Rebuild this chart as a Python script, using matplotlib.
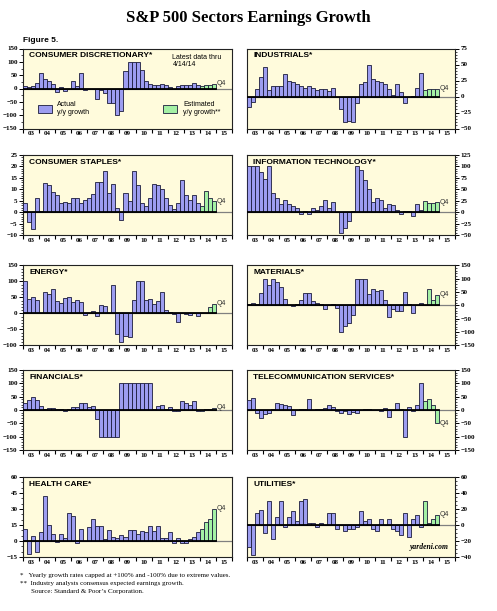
#!/usr/bin/env python3
"""
S&P 500 sectors earnings growth: ten small bar panels, quarterly y/y growth
2003-2014 (2014 = analysts' estimates, drawn green).

Output: out.png (~497x611 px)
"""

import matplotlib
matplotlib.use("Agg")
import matplotlib.pyplot as plt
from matplotlib.patches import Rectangle
from matplotlib.ticker import MultipleLocator

# DATA  (quarterly y/y growth, %, Q1 2003 .. Q4 2014; last 4 are estimates)

START_YEAR = 2003
N_EST      = 4
YEAR_LABELS = ["03", "04", "05", "06", "07", "08", "09", "10", "11", "12", "13", "14", "15"]

cons_disc = [10, 5, 10, 20, 57, 35, 28, 18, -12, 5, -10, 0, 28, 8, 57, -5,
             -3, -3, -40, -5, -18, -55, -55, -100, -85, 65, 100, 100, 100, 68, 28, 18,
             15, 15, 18, 15, 5, -3, 10, 12, 15, 15, 20, 15, 10, 12, 15, 18]
industrials = [-17, -8, 12, 31, 46, 10, 17, 16, 16, 35, 25, 23, 20, 16, 14, 16,
               14, 10, 12, 12, 8, 13, 0, -20, -40, -38, -40, -10, 20, 22, 50, 27,
               24, 22, 20, 12, 3, 20, 7, -10, 0, 1, 14, 36, 10, 12, 11, 12]
cons_staples = [4, -4.5, -7.5, 6, 0.5, 12.8, 12, 9, 7.5, 4.2, 4.5, 4.2, 6, 6.2, 4.2, 5.5,
                6.2, 8, 13.2, 13, 18, 8.5, 12.5, 2, -3.5, 8.2, 4.8, 18, 12, 4.2, 2.8, 6,
                12.5, 12, 10, 6, 3, 1.5, 4, 14, 7.5, 5.5, 7.5, 4, 2.8, 9.3, 6.3, 4.8]
info_tech = [100, 100, 100, 88, 72, 100, 42, 32, 18, 27, 18, 14, 9, -3, 2, -3,
             10, 4, 13, 27, 10, 22, 0, -45, -35, -20, 2, 100, 92, 70, 50, 22,
             30, 27, 8, 18, 15, 5, -5, 2, 2, -8, 17, 5, 25, 20, 21, 22]
energy = [100, 45, 50, 42, 2, 68, 60, 78, 38, 32, 48, 52, 35, 42, 35, -5,
          0, 8, -8, 25, 22, 0, 88, -65, -90, -70, -72, 42, 100, 100, 42, 45,
          30, 38, 68, 10, 5, -3, -28, 3, -3, -5, 0, -8, 0, 3, 20, 30]
materials = [5, 10, 5, 48, 100, 78, 100, 88, 70, 25, 0, -3, 5, 20, 45, 45,
             15, 8, 5, -12, 3, 5, -10, -100, -78, -65, -35, 100, 100, 100, 42, 62,
             55, 58, 20, -45, -15, -20, -20, 50, 5, -30, 3, 8, 3, 60, 20, 40]
financials = [25, 38, 47, 38, 15, 3, 8, 7, 5, 3, -5, 5, 12, 12, 28, 25,
              10, 15, -35, -100, -100, -100, -100, -100, 100, 100, 100, 100, 100, 100, 100, 100,
              3, 15, 18, 3, 10, -5, -5, 32, 25, 20, 35, -2, -2, 3, 5, 8]
telecom = [38, 45, -10, -30, -15, -10, 3, 28, 22, 20, 15, -20, 0, 3, 5, 40,
           0, 3, 3, 8, 18, 10, -5, -12, -5, -15, -8, -12, 0, 3, 3, 0,
           0, -5, 8, -25, 0, 28, 5, -100, 10, -5, 18, 100, 35, 40, 20, -50]
health_care = [11, -12, 5, -10, 8, 42, 15, 7, -1, 7, 3, 26, 23, -2, 11, 0,
               13, 21, 14, 14, 2, 10, 4, 3, 6, 4, 10, 10, 7, 9, 8, 14,
               9, 14, 3, 3, 8, -2, 3, -2, -2, 2, 4, 8, 11, 18, 21, 30]
utilities = [-27, -38, 15, 19, -10, 30, -17, 10, 30, -3, 10, 17, 5, 30, 32, 3,
             3, -2, 3, 0, 15, 15, -5, 0, -8, -5, -5, -3, 18, 5, 8, -5,
             -8, 8, 0, 7, -5, -8, -12, 15, -15, 8, 13, -3, 30, 3, 7, 13]

# (title, series, ymin, ymax, major step, minor step, column, row)
PANELS = [
    ("CONSUMER DISCRETIONARY*", cons_disc, -150, 150, 50, 25, 0, 0),
    ("INDUSTRIALS*", industrials, -50, 75, 25, 5, 1, 0),
    ("CONSUMER STAPLES*", cons_staples, -10, 25, 5, 1, 0, 1),
    ("INFORMATION TECHNOLOGY*", info_tech, -50, 125, 25, 5, 1, 1),
    ("ENERGY*", energy, -100, 150, 50, 10, 0, 2),
    ("MATERIALS*", materials, -150, 150, 50, 10, 1, 2),
    ("FINANCIALS*", financials, -150, 150, 50, 10, 0, 3),
    ("TELECOMMUNICATION SERVICES*", telecom, -150, 150, 50, 10, 1, 3),
    ("HEALTH CARE*", health_care, -15, 60, 15, 5, 0, 4),
    ("UTILITIES*", utilities, -40, 60, 20, 5, 1, 4),
]

# STYLE

W_PX, H_PX = 497, 611
COL_LEFT   = [23, 247]
COL_WIDTH  = [209, 208]
ROW_TOP    = [48.5, 155, 265.5, 370, 477]
ROW_HEIGHT = 80
BG         = "#fffbdc"
BLUE       = "#9d9df0"
GREEN      = "#a4f0a4"
EDGE       = "#1c1c3c"
SERIF      = ["Liberation Serif", "DejaVu Serif"]
SANS       = ["Liberation Sans", "DejaVu Sans"]


def _axes_rect(col: int, row: int) -> list[float]:
    left   = COL_LEFT[col] / W_PX
    bottom = 1 - (ROW_TOP[row] + ROW_HEIGHT) / H_PX
    return [left, bottom, COL_WIDTH[col] / W_PX, ROW_HEIGHT / H_PX]


def _draw_panel(fig, title, values, ymin, ymax, major, minor, col, row):
    ax = fig.add_axes(_axes_rect(col, row))
    ax.set_facecolor(BG)

    n = len(values)
    xs = [START_YEAR + i * 0.25 for i in range(n)]
    colors = [BLUE] * (n - N_EST) + [GREEN] * N_EST
    ax.bar(xs, values, width=0.25, align="edge", color=colors,
           edgecolor=EDGE, linewidth=0.6, zorder=3)

    end_x = START_YEAR + n * 0.25
    ax.axhline(0, color="#808080", linewidth=0.9, zorder=2)
    ax.plot([START_YEAR, end_x], [0, 0], color="black", linewidth=1.3, zorder=4)

    ax.text(end_x + 0.05, values[-1], "Q4", fontsize=5, family=SANS,
            color="#333333", va="center", ha="left", zorder=5)

    ax.set_xlim(START_YEAR, START_YEAR + len(YEAR_LABELS))
    ax.set_ylim(ymin, ymax)

    years = list(range(START_YEAR, START_YEAR + len(YEAR_LABELS) + 1))
    ax.set_xticks(years)
    ax.set_xticklabels([])
    ax.set_xticks([y + 0.5 for y in years[:-1]], minor=True)
    ax.set_xticklabels(YEAR_LABELS, minor=True, family=SERIF,
                       fontsize=5, fontweight="bold")
    ax.tick_params(axis="x", which="major", direction="out", length=3, width=0.8)
    ax.tick_params(axis="x", which="minor", length=0, pad=2)

    ax.yaxis.set_major_locator(MultipleLocator(major))
    ax.yaxis.set_minor_locator(MultipleLocator(minor))
    if col == 1:
        ax.yaxis.tick_right()
    ax.tick_params(axis="y", which="major", direction="out", length=3,
                   width=0.7, labelsize=5, pad=1)
    ax.tick_params(axis="y", which="minor", direction="out", length=1.5, width=0.5)
    for lab in ax.get_yticklabels():
        lab.set_family(SERIF)
        lab.set_fontweight("bold")

    for sp in ax.spines.values():
        sp.set_linewidth(0.8)
        sp.set_color("#222222")

    ax.text(0.03, 0.955, title, transform=ax.transAxes, fontsize=6,
            fontweight="bold", family=SANS, va="top", ha="left", zorder=6)
    return ax


def _draw_legend(ax):
    ax.add_patch(Rectangle((0.072, 0.20), 0.067, 0.10, transform=ax.transAxes,
                           facecolor=BLUE, edgecolor=EDGE, linewidth=0.6, zorder=6))
    ax.text(0.163, 0.25, "Actual\ny/y growth", transform=ax.transAxes,
            fontsize=5, family=SANS, va="center", ha="left", linespacing=1.0, zorder=6)
    ax.add_patch(Rectangle((0.67, 0.20), 0.067, 0.10, transform=ax.transAxes,
                           facecolor=GREEN, edgecolor=EDGE, linewidth=0.6, zorder=6))
    ax.text(0.765, 0.25, "Estimated\ny/y growth**", transform=ax.transAxes,
            fontsize=5, family=SANS, va="center", ha="left", linespacing=1.0, zorder=6)
    ax.text(0.715, 0.93, "Latest data thru\n4/14/14", transform=ax.transAxes,
            fontsize=5, family=SANS, va="top", ha="left", linespacing=1.0, zorder=6)


def main() -> None:
    fig = plt.figure(figsize=(W_PX / 100, H_PX / 100), dpi=100)
    fig.patch.set_facecolor("white")

    fig.text(0.5, 1 - 18 / H_PX, "S&P 500 Sectors Earnings Growth", ha="center",
             va="center", fontsize=12, fontweight="bold", family=SERIF)
    fig.text(23 / W_PX, 1 - 41 / H_PX, "Figure 5.", ha="left", va="center",
             fontsize=6, fontweight="bold", family=SANS)

    axes = []
    for title, vals, ymin, ymax, major, minor, col, row in PANELS:
        axes.append(_draw_panel(fig, title, vals, ymin, ymax, major, minor, col, row))

    _draw_legend(axes[0])

    axes[-1].text(0.97, 0.07, "yardeni.com", transform=axes[-1].transAxes,
                  fontsize=5.5, family=SERIF, style="italic", fontweight="bold",
                  ha="right", va="bottom", zorder=6)

    notes = [
        (20, 576, "*   Yearly growth rates capped at +100% and -100% due to extreme values."),
        (20, 584, "**  Industry analysts consensus expected earnings growth."),
        (31, 592, "Source: Standard & Poor\u2019s Corporation."),
    ]
    for x, y, s in notes:
        fig.text(x / W_PX, 1 - y / H_PX, s, ha="left", va="center",
                 fontsize=5, family=SERIF)

    fig.savefig("out.png", dpi=100)
    plt.close(fig)


if __name__ == "__main__":
    main()
